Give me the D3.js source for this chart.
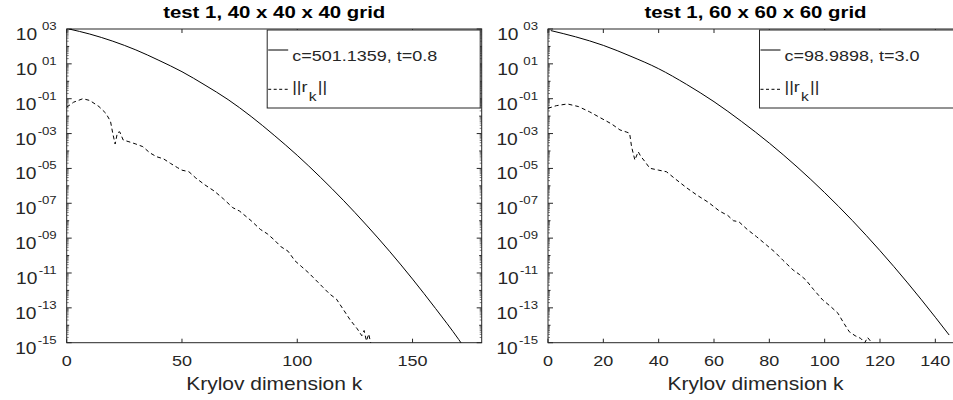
<!DOCTYPE html>
<html><head><meta charset="utf-8">
<script src="https://cdn.jsdelivr.net/npm/d3@7"></script>
<style>
body{margin:0;background:#fff}
svg{display:block}
text{font-family:"Liberation Sans",Arial,Helvetica,sans-serif;fill:#262626}
</style>
</head><body>
<svg id="chart" width="953" height="400"></svg>
<script>
// ---------- data ----------
const titles = ["test 1, 40 x 40 x 40 grid", "test 1, 60 x 60 x 60 grid"];
const legendLabels = ["c=501.1359, t=0.8", "c=98.9898, t=3.0"];
const xLabel = "Krylov dimension k";
const xMaxes = [180, 150];
const xTicks1 = [0, 50, 100, 150];
const xTicks2 = [0, 20, 40, 60, 80, 100, 120, 140];
const yLabelExps = [3, 1, -1, -3, -5, -7, -9, -11, -13, -15];

// panel 1 : error bound (solid), log10 values
const solid1K   = [1, 10, 20, 30, 40, 50, 60, 70, 80, 90, 100, 110, 120, 130, 140, 150, 160, 170, 172];
const solid1Log = [3.0, 2.71, 2.30, 1.80, 1.20, 0.55, -0.22, -1.05, -2.02, -3.10, -4.25, -5.50, -6.83, -8.25, -9.75, -11.35, -13.04, -14.81, -15.19];
// panel 1 : residual norm ||r_k|| (dashed), log10 values
const dash1K   = [0, 3, 7, 10, 14, 17, 19, 20, 21, 22, 23, 24.5, 27, 30, 33, 36, 39, 42, 45, 48, 50, 53, 56, 60, 64, 68, 72, 75, 80, 84, 87, 90, 93, 96, 99, 102, 105, 108, 111, 114, 117, 120, 123, 126, 128, 129, 130, 131, 132];
const dash1Log = [-1.49, -1.2, -1.0, -1.1, -1.45, -1.84, -2.3, -3.0, -3.6, -2.95, -2.9, -3.37, -3.47, -3.6, -3.75, -4.1, -4.33, -4.45, -4.71, -4.95, -5.1, -5.19, -5.55, -5.95, -6.3, -6.75, -7.25, -7.45, -8.0, -8.5, -8.75, -9.1, -9.5, -9.75, -10.3, -10.65, -11.0, -11.4, -11.8, -12.2, -12.5, -13.1, -13.7, -14.2, -14.6, -14.3, -14.9, -14.5, -15.1];

// panel 2 : error bound (solid), log10 values
const solid2K   = [1, 10, 20, 30, 40, 50, 60, 70, 80, 90, 100, 110, 120, 130, 140, 145];
const solid2Log = [2.91, 2.55, 2.06, 1.43, 0.72, -0.17, -1.17, -2.31, -3.55, -4.91, -6.39, -7.99, -9.72, -11.57, -13.54, -14.56];
// panel 2 : residual norm (dashed), log10 values
const dash2K   = [0, 3, 7, 11, 15, 19, 23, 26, 28.5, 29.5, 30.2, 31.4, 32.6, 33.5, 35, 36.8, 40, 42.8, 46, 50, 54, 58, 62, 65, 67, 69, 72, 75.4, 79, 82, 84.8, 88.6, 91, 93.2, 96, 99.3, 102, 104.8, 107, 108.9, 111, 113, 114.5, 115.5, 117.3];
const dash2Log = [-1.55, -1.4, -1.3, -1.45, -1.75, -2.1, -2.45, -2.79, -2.92, -2.98, -3.75, -4.52, -4.04, -4.3, -4.6, -4.99, -5.1, -5.19, -5.6, -6.1, -6.55, -6.95, -7.45, -7.7, -8.0, -8.06, -8.5, -8.92, -9.4, -9.8, -10.25, -10.83, -11.1, -11.4, -11.95, -12.55, -12.9, -13.31, -13.9, -14.37, -14.6, -14.75, -15.0, -14.7, -15.05];

// ---------- layout ----------
const SX = 1.2;             // horizontal text stretch of the reference
const AX = "#262626";
const yTop = 29, yBottom = 342.7;
const panels = [
  {left: 66.7, width: 415, xMax: xMaxes[0], ticks: xTicks1, title: titles[0], legend: legendLabels[0], legW: 213,
   solid: solid1K.map((k,i)=>({k, v: 10**solid1Log[i]})), dash: dash1K.map((k,i)=>({k, v: 10**dash1Log[i]}))},
  {left: 548, width: 415, xMax: xMaxes[1], ticks: xTicks2, title: titles[1], legend: legendLabels[1], legW: 202,
   solid: solid2K.map((k,i)=>({k, v: 10**solid2Log[i]})), dash: dash2K.map((k,i)=>({k, v: 10**dash2Log[i]}))}
];

const svg = d3.select("#chart");

function stext(parent, x, y, anchor, size, weight) {
  const g = parent.append("g").attr("transform", `translate(${x},${y}) scale(${SX},1)`);
  return g.append("text").attr("text-anchor", anchor).style("font-size", size + "px")
          .style("font-weight", weight || "normal");
}

panels.forEach((p, pi) => {
  const x = d3.scaleLinear().domain([0, p.xMax]).range([p.left, p.left + p.width]);
  const y = d3.scaleLog().domain([1e-15, 1e3]).range([yBottom, yTop]);
  const right = p.left + p.width;
  const g = svg.append("g");

  const clipId = "clip" + pi;
  svg.append("defs").append("clipPath").attr("id", clipId)
    .append("rect").attr("x", p.left).attr("y", yTop).attr("width", p.width).attr("height", yBottom - yTop);

  // frame
  g.append("rect").attr("x", p.left).attr("y", yTop).attr("width", p.width).attr("height", yBottom - yTop)
    .attr("fill", "none").attr("stroke", AX).attr("stroke-width", 1);

  // x ticks (bottom & top)
  p.ticks.forEach(t => {
    const xx = x(t);
    g.append("line").attr("x1", xx).attr("x2", xx).attr("y1", yBottom).attr("y2", yBottom - 4).attr("stroke", AX);
    g.append("line").attr("x1", xx).attr("x2", xx).attr("y1", yTop).attr("y2", yTop + 4).attr("stroke", AX);
    stext(g, xx, 366, "middle", 15).text(t);
  });

  // y ticks
  for (let e = -15; e <= 3; e++) {
    const major = yLabelExps.includes(e);
    const yy = y(10 ** e);
    const len = major ? 5 : 2.5;
    g.append("line").attr("x1", p.left).attr("x2", p.left + len).attr("y1", yy).attr("y2", yy).attr("stroke", AX);
    g.append("line").attr("x1", right).attr("x2", right - len).attr("y1", yy).attr("y2", yy).attr("stroke", AX);
    if (e < 3) {
      for (let m = 2; m <= 9; m++) {
        const ym = y(m * 10 ** e);
        g.append("line").attr("x1", p.left).attr("x2", p.left + 2).attr("y1", ym).attr("y2", ym).attr("stroke", AX).attr("stroke-width", 0.6);
        g.append("line").attr("x1", right).attr("x2", right - 2).attr("y1", ym).attr("y2", ym).attr("stroke", AX).attr("stroke-width", 0.6);
      }
    }
  }
  yLabelExps.forEach(e => {
    const yy = y(10 ** e);
    const t = stext(g, p.left - 10, yy + 11, "end", 16);
    t.append("tspan").text("10");
    const s = (e < 0 ? "-" : "\u00A0") + String(Math.abs(e)).padStart(2, "0");
    t.append("tspan").attr("dy", -10).attr("dx", 1).style("font-size", "11px").text(s);
  });

  // title and x label
  stext(g, p.left + p.width / 2, 18, "middle", 17, "bold").style("fill", "#000").text(p.title);
  stext(g, p.left + p.width / 2, 390, "middle", 17.5).text(xLabel);

  // series
  const plot = g.append("g").attr("clip-path", `url(#${clipId})`);
  plot.append("path").datum(p.solid)
    .attr("d", d3.line().x(d => x(d.k)).y(d => y(d.v)).curve(d3.curveMonotoneX))
    .attr("fill", "none").attr("stroke", "#000").attr("stroke-width", 1);
  plot.append("path").datum(p.dash)
    .attr("d", d3.line().x(d => x(d.k)).y(d => y(d.v)))
    .attr("fill", "none").attr("stroke", "#000").attr("stroke-width", 1).attr("stroke-dasharray", "4,3");

  // legend
  const lx = right - 1.5 - p.legW;
  const lg = g.append("g");
  lg.append("rect").attr("x", lx).attr("y", 30).attr("width", p.legW).attr("height", 78)
    .attr("fill", "#fff").attr("stroke", AX).attr("stroke-width", 1);
  lg.append("line").attr("x1", lx + 1).attr("x2", lx + 21).attr("y1", 50).attr("y2", 50).attr("stroke", "#000");
  lg.append("line").attr("x1", lx + 1).attr("x2", lx + 21).attr("y1", 89.3).attr("y2", 89.3).attr("stroke", "#000").attr("stroke-dasharray", "3,2.5");
  stext(lg, lx + 25, 61, "start", 15).text(p.legend);
  const rt = stext(lg, lx + 25, 92, "start", 15);
  rt.append("tspan").text("||r");
  rt.append("tspan").attr("dy", 9).attr("dx", 1).style("font-size", "13px").text("k");
  rt.append("tspan").attr("dy", -9).attr("dx", 1).text("||");
});
</script>
</body></html>
